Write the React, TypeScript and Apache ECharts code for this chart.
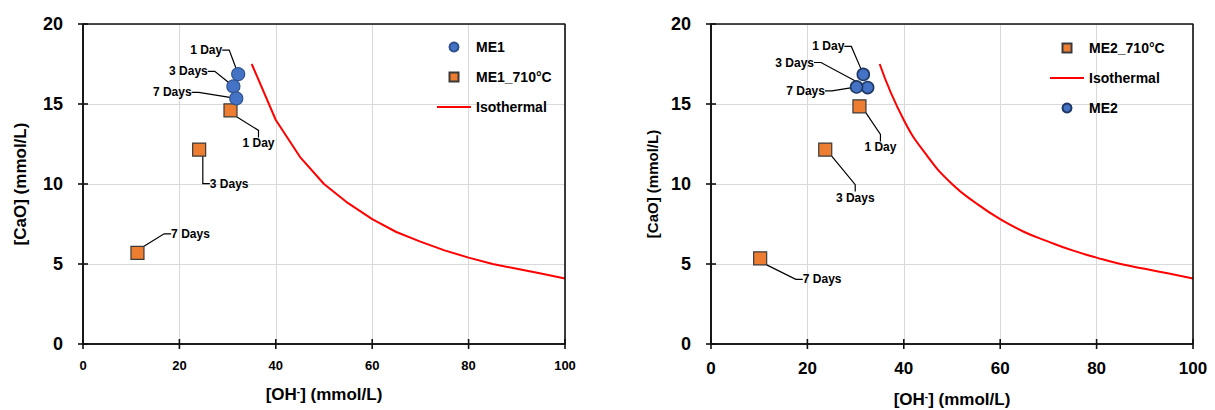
import { useEffect, useRef } from 'react';
import * as echarts from 'echarts';

const FONT = 'Liberation Sans, Arial, sans-serif';
const INK = '#111111';

// ---- data ----
const dayLabels = ['1 Day', '3 Days', '7 Days'];
const me1OH = [32.2, 31.2, 31.8];
const me1CaO = [16.87, 16.1, 15.35];
const me1HtOH = [30.6, 24.1, 11.3];
const me1HtCaO = [14.6, 12.15, 5.7];
const me2OH = [31.6, 32.5, 30.2];
const me2CaO = [16.85, 16.03, 16.07];
const me2HtOH = [30.8, 23.7, 10.2];
const me2HtCaO = [14.85, 12.15, 5.35];
const isoOH = [35, 40, 45, 50, 55, 60, 65, 70, 75, 80, 85, 90, 95, 100];
const isoCaO = [17.5, 14.0, 11.7, 10.0, 8.8, 7.8, 7.0, 6.4, 5.85, 5.4, 5.0, 4.7, 4.4, 4.1];
const xMin = 0, xMax = 100, xStep = 20;
const yMin = 0, yMax = 20, yStep = 5;
const xTicks = [0, 20, 40, 60, 80, 100];
const yTicks = [0, 5, 10, 15, 20];

// label offsets (label centre relative to marker centre, px)
const me1Off = [[-32, -24], [-45, -15], [-64, -6]];
const me1HtOff = [[28, 33], [30, 34], [53, -19]];
const me2Off = [[-35, -28], [-73, -25], [-51, 4]];
const me2HtOff = [[21, 41], [30, 48], [62, 21]];

const pts = (xs: number[], ys: number[]) => xs.map((x, i) => ({ value: [x, ys[i]], name: dayLabels[i] }));
const line = (xs: number[], ys: number[]) => xs.map((x, i) => [x, ys[i]]);

const blue = '#4472C4';
const orange = '#ED7D31';
const SQUARE = 'path://M0 0H10V10H0Z';
const CIRCLE = 'circle';
const DASH = 'path://M0 0H40V2.2H0Z';

function labelled(off: number[][]) {
  return {
    label: {
      show: true,
      position: 'inside',
      formatter: '{b}',
      color: '#000',
      fontSize: 12,
      fontWeight: 'bold',
      fontFamily: FONT,
    },
    labelLayout: (p: any) => ({ dx: off[p.dataIndex][0], dy: off[p.dataIndex][1] }),
    labelLine: { show: true, length2: 7, lineStyle: { color: '#000', width: 1.2 } },
  };
}

const xName = '[OH{sup|-}] (mmol/L)';
const supRich = { sup: { fontSize: 10, fontWeight: 'bold', fontFamily: FONT, color: '#000', verticalAlign: 'top', padding: [0, 0, 6, 0] } };

function xAxisOf(labelSize: number, margin: number, nameGap: number) {
  return {
    type: 'value', min: xMin, max: xMax, interval: xStep,
    axisLine: { show: true, onZero: false, lineStyle: { color: INK, width: 1.6 } },
    axisTick: { show: false },
    axisLabel: { fontSize: labelSize, fontWeight: 'bold', color: '#000', fontFamily: FONT, margin },
    splitLine: { show: true, lineStyle: { color: '#d9d9d9', width: 1 } },
    name: xName, nameLocation: 'middle', nameGap,
    nameTextStyle: { fontSize: 17, fontWeight: 'bold', color: '#000', fontFamily: FONT, rich: supRich },
  };
}
function yAxisOf(nameSize: number, nameGap: number) {
  return {
    type: 'value', min: yMin, max: yMax, interval: yStep,
    axisLine: { show: true, onZero: false, lineStyle: { color: INK, width: 1.6 } },
    axisTick: { show: false },
    axisLabel: { fontSize: 18, fontWeight: 'bold', color: '#000', fontFamily: FONT, margin: 20 },
    splitLine: { show: true, lineStyle: { color: '#d9d9d9', width: 1 } },
    name: '[CaO] (mmol/L)', nameLocation: 'middle', nameGap,
    nameTextStyle: { fontSize: nameSize, fontWeight: 'bold', color: '#000', fontFamily: FONT },
  };
}

const legendText = { fontSize: 14, fontWeight: 'bold', color: '#000', fontFamily: FONT, lineHeight: 16 };

function isoSeries(smooth: boolean) {
  return {
    name: 'Isothermal', type: 'line', data: line(isoOH, isoCaO), smooth,
    symbol: 'none', lineStyle: { color: '#FF0000', width: 2 }, itemStyle: { color: '#FF0000' }, z: 2,
  };
}

// plot frame (through the axes' scales) and crossing ticks
function frameSeries() {
  const frame = [[xMin, yMin], [xMax, yMin], [xMax, yMax], [xMin, yMax], [xMin, yMin]];
  const ticks = [
    ...xTicks.map((v) => [v, yMin, 0]),
    ...yTicks.map((v) => [xMin, v, 1]),
  ];
  return [
    {
      name: 'frame', type: 'line', data: frame, symbol: 'none', silent: true, clip: false, z: 10,
      lineStyle: { color: INK, width: 1.6 }, itemStyle: { color: INK }, emphasis: { disabled: true },
    },
    {
      name: 'ticks', type: 'custom', data: ticks, silent: true, clip: false, z: 10,
      renderItem: (_p: any, api: any) => {
        const c = api.coord([api.value(0), api.value(1)]);
        const vertical = api.value(2) === 0;
        return {
          type: 'line',
          shape: vertical
            ? { x1: c[0], y1: c[1] - 5, x2: c[0], y2: c[1] + 5 }
            : { x1: c[0] - 5, y1: c[1], x2: c[0] + 5, y2: c[1] },
          style: { stroke: INK, lineWidth: 1.6 },
        };
      },
    },
  ];
}

const leftOption: any = {
  animation: false,
  backgroundColor: '#fff',
  grid: { left: 83, top: 24, width: 482, height: 320, outerBoundsMode: 'none' },
  xAxis: xAxisOf(13, 15, 42),
  yAxis: yAxisOf(17, 54),
  legend: {
    left: 437, top: 39, orient: 'vertical', padding: 0, itemWidth: 34, itemHeight: 9, itemGap: 14,
    textStyle: legendText,
    data: [
      { name: 'ME1', icon: CIRCLE },
      { name: 'ME1_710°C', icon: SQUARE },
      { name: 'Isothermal', icon: DASH },
    ],
  },
  series: [
    isoSeries(false),
    {
      name: 'ME1_710°C', type: 'scatter', data: pts(me1HtOH, me1HtCaO),
      symbol: 'rect', symbolSize: 13, itemStyle: { color: orange, borderColor: '#3a3a3a', borderWidth: 1.2, opacity: 1 },
      ...labelled(me1HtOff), z: 3,
    },
    {
      name: 'ME1', type: 'scatter', data: pts(me1OH, me1CaO),
      symbol: 'circle', symbolSize: 13, itemStyle: { color: blue, borderColor: '#2F528F', borderWidth: 1.2, opacity: 1 },
      ...labelled(me1Off), z: 4,
    },
    ...frameSeries(),
  ],
};

const rightOption: any = {
  animation: false,
  backgroundColor: '#fff',
  grid: { left: 91, top: 24, width: 482, height: 320, outerBoundsMode: 'none' },
  xAxis: xAxisOf(17, 16, 47),
  yAxis: yAxisOf(15, 50),
  legend: {
    left: 430, top: 40, orient: 'vertical', padding: 0, itemWidth: 34, itemHeight: 9, itemGap: 14,
    textStyle: legendText,
    data: [
      { name: 'ME2_710°C', icon: SQUARE },
      { name: 'Isothermal', icon: DASH },
      { name: 'ME2', icon: CIRCLE },
    ],
  },
  series: [
    {
      name: 'ME2_710°C', type: 'scatter', data: pts(me2HtOH, me2HtCaO),
      symbol: 'rect', symbolSize: 13, itemStyle: { color: orange, borderColor: '#3a3a3a', borderWidth: 1.2, opacity: 1 },
      ...labelled(me2HtOff), z: 3,
    },
    isoSeries(true),
    {
      name: 'ME2', type: 'scatter', data: pts(me2OH, me2CaO),
      symbol: 'circle', symbolSize: 12, itemStyle: { color: blue, borderColor: '#1F3864', borderWidth: 1.6, opacity: 1 },
      ...labelled(me2Off), z: 4,
    },
    ...frameSeries(),
  ],
};

function Chart({ option, left, width }: { option: any; left: number; width: number }) {
  const ref = useRef<HTMLDivElement>(null);
  useEffect(() => {
    const chart = echarts.init(ref.current!, null, { renderer: 'svg' });
    chart.setOption(option);
    return () => chart.dispose();
  }, [option]);
  return <div ref={ref} style={{ position: 'absolute', left, top: 0, width, height: 410 }} />;
}

export default function App() {
  return (
    <div style={{ position: 'absolute', left: 0, top: 0, width: 1215, height: 410, background: '#fff' }}>
      <Chart option={leftOption} left={0} width={620} />
      <Chart option={rightOption} left={620} width={595} />
    </div>
  );
}
